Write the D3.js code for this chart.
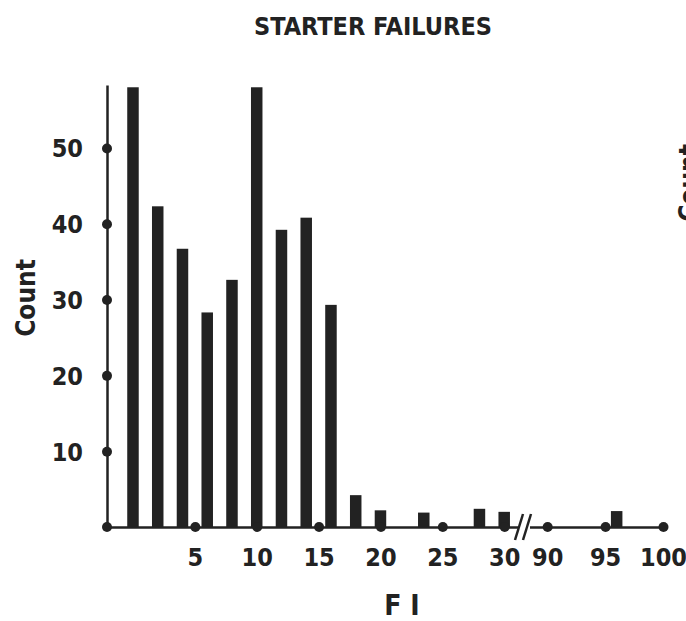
<!DOCTYPE html>
<html>
<head>
<meta charset="utf-8">
<script src="https://cdn.jsdelivr.net/npm/d3@7"></script>
<style>
  html, body { margin: 0; padding: 0; background: #fff; overflow: hidden; }
  svg { display: block; }
  text { font-family: "Liberation Sans Narrow", "DejaVu Sans Condensed", "Roboto Condensed", sans-serif; font-weight: bold; fill: #222; }
</style>
</head>
<body>
<svg id="chart" width="686" height="621"></svg>
<script>
// Starter failures by FI value (bar positions on the FI axis and their counts)
const fiValues = [0, 2, 4, 6, 8, 10, 12, 14, 16, 18, 20, 23.5, 28, 30, 96];
const counts   = [58, 42.3, 36.7, 28.3, 32.6, 58, 39.2, 40.8, 29.3, 4.2, 2.2, 1.9, 2.4, 2.0, 2.1];

// Axis ticks
const xTickValues = [5, 10, 15, 20, 25, 30, 90, 95, 100];
const yTickValues = [10, 20, 30, 40, 50];

// Axis extents (the FI axis is broken between 31.6 and 88)
const xAxisMin = -2.1, xBreakLow = 31.6, xBreakHigh = 88, xAxisMax = 100;
const yAxisMax = 58.3;

const ink = "#222";
const svg = d3.select("#chart");

const x = d3.scaleLinear()
  .domain([xAxisMin, xBreakLow, xBreakHigh, xAxisMax])
  .range([107, 524, 524, 663]);

const y = d3.scaleLinear()
  .domain([0, yAxisMax])
  .range([527, 85]);

// Title
svg.append("text")
  .attr("x", 373).attr("y", 35)
  .attr("text-anchor", "middle")
  .style("font-size", "25px")
  .text("STARTER FAILURES");

// Bars
const barW = 11.5;
svg.append("g").selectAll("rect")
  .data(fiValues.map((v, i) => ({ fi: v, n: counts[i] })))
  .join("rect")
  .attr("x", d => x(d.fi) - barW / 2)
  .attr("width", barW)
  .attr("y", d => y(d.n))
  .attr("height", d => y(0) - y(d.n))
  .attr("fill", ink);

// Y axis
const yAxis = svg.append("g")
  .attr("transform", `translate(${x(xAxisMin)},0)`)
  .call(d3.axisLeft(y).tickValues(yTickValues).tickSize(0).tickPadding(24));
yAxis.select(".domain").attr("stroke", ink).attr("stroke-width", 2.5);
yAxis.selectAll(".tick text")
  .style("font-size", "25px")
  .style("font-family", null)
  .attr("fill", ink)
  .attr("dy", "0.36em");
yAxis.selectAll(".tick").append("circle")
  .attr("r", 5).attr("fill", ink);

// X axis
const xAxis = svg.append("g")
  .attr("transform", `translate(0,${y(0)})`)
  .call(d3.axisBottom(x).tickValues(xTickValues).tickSize(0).tickPadding(21)
    .tickFormat(d3.format("d")));
xAxis.select(".domain").attr("stroke", ink).attr("stroke-width", 2.5);
xAxis.selectAll(".tick text")
  .style("font-size", "25px")
  .style("font-family", null)
  .attr("fill", ink);
xAxis.selectAll(".tick").append("circle")
  .attr("r", 5).attr("fill", ink);

// Origin dot
svg.append("circle")
  .attr("cx", x(xAxisMin)).attr("cy", y(0))
  .attr("r", 5).attr("fill", ink);

// Axis break marks
const bx = x(xBreakLow), by = y(0);
svg.append("rect")
  .attr("x", bx - 6).attr("y", by - 4).attr("width", 12).attr("height", 8)
  .attr("fill", "#fff");
[-4, 4].forEach(off => {
  svg.append("line")
    .attr("x1", bx + off - 5).attr("y1", by + 13)
    .attr("x2", bx + off + 3).attr("y2", by - 13)
    .attr("stroke", ink).attr("stroke-width", 2.5);
});

// Axis titles
svg.append("text")
  .attr("transform", "translate(35,298) rotate(-90)")
  .attr("text-anchor", "middle")
  .style("font-size", "26px")
  .text("Count");

svg.append("text")
  .attr("x", 402).attr("y", 615)
  .attr("text-anchor", "middle")
  .style("font-size", "28px")
  .text("F I");

// Neighbouring panel's axis title, cut by the right edge
svg.append("text")
  .attr("transform", "translate(698,183) rotate(-90)")
  .attr("text-anchor", "middle")
  .style("font-size", "26px")
  .text("Count");
</script>
</body>
</html>
